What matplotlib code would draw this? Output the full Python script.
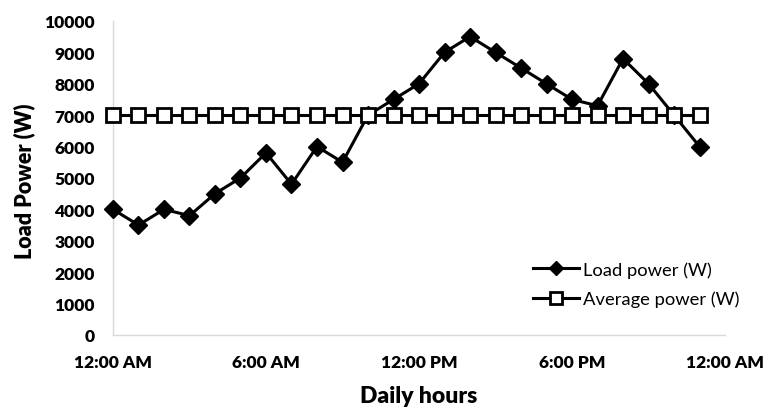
import matplotlib
matplotlib.use("Agg")
import matplotlib.pyplot as plt

hours = list(range(24))
load_power = [4000, 3500, 4000, 3800, 4500, 5000, 5800, 4800, 6000, 5500, 7000, 7500,
              8000, 9000, 9500, 9000, 8500, 8000, 7500, 7300, 8800, 8000, 7000, 6000]
average_power = [7000] * 24
tick_pos = [0, 6, 12, 18, 24]
tick_labels = ["12:00 AM", "6:00 AM", "12:00 PM", "6:00 PM", "12:00 AM"]
yticks = list(range(0, 10001, 1000))

plt.rcParams['font.family'] = ['Lato', 'DejaVu Sans']

fig = plt.figure(figsize=(7.67, 4.10), dpi=100)
ax = fig.add_axes([0.1473, 0.1805, 0.798, 0.766])

ax.plot(hours, load_power, color='black', lw=2.2, marker='D', markersize=9.5,
        markerfacecolor='black', markeredgecolor='black', label='Load power (W)',
        zorder=3, clip_on=False)
ax.plot(hours, average_power, color='black', lw=2.2, marker='s', markersize=10,
        markerfacecolor='white', markeredgecolor='black', markeredgewidth=2.0,
        label='Average power (W)', zorder=4, clip_on=False)

ax.set_xlim(0, 24)
ax.set_ylim(0, 10000)
ax.set_xticks(tick_pos)
ax.set_xticklabels(tick_labels)
ax.set_yticks(yticks)
ax.tick_params(axis='both', length=0, labelsize=12.5)
ax.tick_params(axis='x', pad=14)
ax.tick_params(axis='y', pad=13)
for lab in ax.get_xticklabels() + ax.get_yticklabels():
    lab.set_fontweight('heavy')

for s in ['top', 'right']:
    ax.spines[s].set_visible(False)
for s in ['left', 'bottom']:
    ax.spines[s].set_color('#d9d9d9')
    ax.spines[s].set_linewidth(1.0)

fig.text(0.031, 0.557, 'Load Power (W)', rotation=90, ha='center', va='center',
         fontsize=15.5, fontweight='heavy')
fig.text(0.546, 0.032, 'Daily hours', ha='center', va='center',
         fontsize=16.5, fontweight='heavy')

leg = ax.legend(loc='center left', bbox_to_anchor=(533 / 767, 1 - 285 / 410),
                bbox_transform=fig.transFigure, frameon=False, fontsize=13.2,
                handlelength=2.5, handletextpad=0.25, labelspacing=0.7,
                borderpad=0, borderaxespad=0)
leg.legend_handles[0].set_markersize(7.5)
leg.legend_handles[1].set_markersize(8.5)

fig.savefig('out.png', dpi=100)
